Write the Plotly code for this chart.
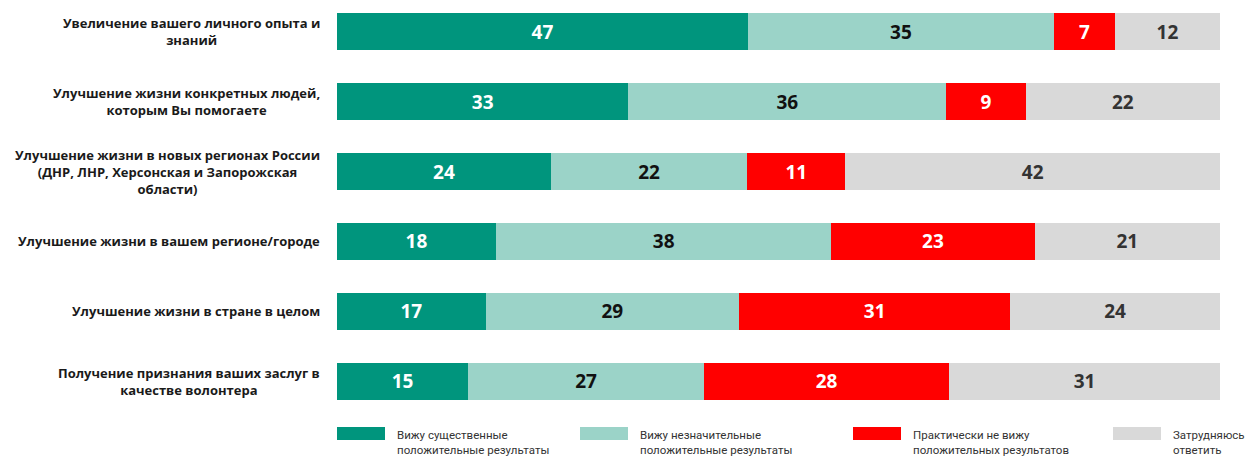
import plotly.graph_objects as go

categories = [
    "Увеличение вашего личного опыта и<br>знаний",
    "Улучшение жизни конкретных людей,<br>которым Вы помогаете",
    "Улучшение жизни в новых регионах России<br>(ДНР, ЛНР, Херсонская и Запорожская<br>области)",
    "Улучшение жизни в вашем регионе/городе",
    "Улучшение жизни в стране в целом",
    "Получение признания ваших заслуг в<br>качестве волонтера",
]
series_names = [
    "Вижу существенные<br>положительные результаты",
    "Вижу незначительные<br>положительные результаты",
    "Практически не вижу<br>положительных результатов",
    "Затрудняюсь<br>ответить",
]
significant = [47, 33, 24, 18, 17, 15]
minor = [35, 36, 22, 38, 29, 27]
none_seen = [7, 9, 11, 23, 31, 28]
hard_to_say = [12, 22, 42, 21, 24, 31]

values = [significant, minor, none_seen, hard_to_say]
colors = ["#00957D", "#9BD3C8", "#FF0000", "#D9D9D9"]
text_colors = ["#FFFFFF", "#111111", "#FFFFFF", "#333333"]

fig = go.Figure()
ypos = list(range(len(categories)))
for name, vals, col, tcol in zip(series_names, values, colors, text_colors):
    fig.add_trace(go.Bar(
        y=ypos, x=vals, orientation="h", name=name,
        marker=dict(color=col, line=dict(width=0)),
        text=[str(v) for v in vals], textposition="inside",
        insidetextanchor="middle",
        textfont=dict(family="Open Sans", size=19, color=tcol, weight="bold"),
        width=0.53, showlegend=False, hoverinfo="skip",
    ))

for i, c in enumerate(categories):
    fig.add_annotation(
        x=0, xref="paper", y=i, yref="y", text="<b>" + c + "</b>",
        xanchor="right", yanchor="middle", align="center", xshift=-15,
        showarrow=False,
        font=dict(family="Open Sans", size=13, color="#1A1A1A"),
    )

# legend drawn manually
leg_x = [337, 580, 853, 1113]
for lx, name, col in zip(leg_x, series_names, colors):
    x0 = (lx - 337) / (1220 - 337)
    x1 = (lx + 48 - 337) / (1220 - 337)
    fig.add_shape(type="rect", xref="paper", yref="paper",
                  x0=x0, x1=x1, y0=(416 - 440) / 416, y1=(416 - 427) / 416,
                  fillcolor=col, line=dict(width=0))
    fig.add_annotation(
        x=(lx + 58 - 337) / (1220 - 337), xref="paper",
        y=(416 - 442) / 416, yref="paper", text=name,
        xanchor="left", yanchor="middle", align="left", showarrow=False,
        font=dict(family="Roboto", size=11.5, color="#333333"),
    )

fig.update_layout(
    width=1252, height=457,
    margin=dict(l=337, r=32, t=0, b=41),
    barmode="stack", barnorm="percent",
    plot_bgcolor="white", paper_bgcolor="white",
    xaxis=dict(visible=False, range=[0, 100], fixedrange=True),
    yaxis=dict(visible=False, range=[5.493, -0.45], fixedrange=True),
    showlegend=False,
)
fig.write_html("out.html", config={"displayModeBar": False},
               post_script="document.body.style.margin='0';")
